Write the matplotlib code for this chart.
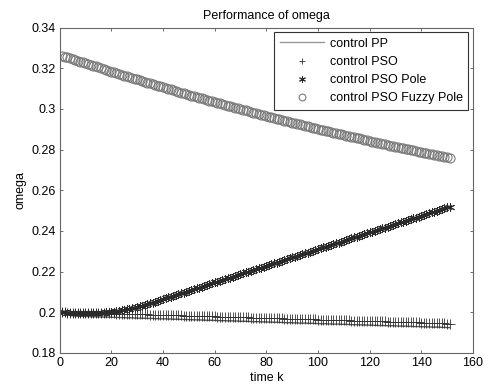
import matplotlib
matplotlib.use('Agg')
import matplotlib.pyplot as plt

plt.rcParams['font.family'] = ['Liberation Sans', 'DejaVu Sans']

# time steps k = 1..151
time_k = list(range(1, 152))

# control PP (solid line)
omega_pp = [
    0.2000, 0.1993, 0.1988, 0.1985, 0.1983, 0.1982, 0.1981, 0.1980, 0.1980, 0.1980,
    0.1979, 0.1979, 0.1978, 0.1978, 0.1978, 0.1977, 0.1977, 0.1977, 0.1976, 0.1976,
    0.1975, 0.1975, 0.1975, 0.1974, 0.1974, 0.1973, 0.1973, 0.1973, 0.1972, 0.1972,
    0.1971, 0.1971, 0.1971, 0.1970, 0.1970, 0.1970, 0.1969, 0.1969, 0.1968, 0.1968,
    0.1968, 0.1967, 0.1967, 0.1966, 0.1966, 0.1966, 0.1965, 0.1965, 0.1965, 0.1964,
    0.1964, 0.1963, 0.1963, 0.1963, 0.1962, 0.1962, 0.1961, 0.1961, 0.1961, 0.1960,
    0.1960, 0.1959, 0.1959, 0.1959, 0.1958, 0.1958, 0.1958, 0.1957, 0.1957, 0.1956,
    0.1956, 0.1956, 0.1955, 0.1955, 0.1954, 0.1954, 0.1954, 0.1953, 0.1953, 0.1953,
    0.1952, 0.1952, 0.1951, 0.1951, 0.1951, 0.1950, 0.1950, 0.1949, 0.1949, 0.1949,
    0.1948, 0.1948, 0.1947, 0.1947, 0.1947, 0.1946, 0.1946, 0.1946, 0.1945, 0.1945,
    0.1944, 0.1944, 0.1944, 0.1943, 0.1943, 0.1942, 0.1942, 0.1942, 0.1941, 0.1941,
    0.1941, 0.1940, 0.1940, 0.1939, 0.1939, 0.1939, 0.1938, 0.1938, 0.1937, 0.1937,
    0.1937, 0.1936, 0.1936, 0.1935, 0.1935, 0.1935, 0.1934, 0.1934, 0.1934, 0.1933,
    0.1933, 0.1932, 0.1932, 0.1932, 0.1931, 0.1931, 0.1930, 0.1930, 0.1930, 0.1929,
    0.1929, 0.1929, 0.1928, 0.1928, 0.1927, 0.1927, 0.1927, 0.1926, 0.1926, 0.1925,
    0.1925,
]

# control PSO (+ markers)
omega_pso = [
    0.2000, 0.2000, 0.1999, 0.1999, 0.1999, 0.1999, 0.1998, 0.1998, 0.1998, 0.1998,
    0.1997, 0.1997, 0.1997, 0.1997, 0.1996, 0.1996, 0.1996, 0.1996, 0.1995, 0.1995,
    0.1995, 0.1994, 0.1994, 0.1993, 0.1993, 0.1993, 0.1992, 0.1992, 0.1992, 0.1991,
    0.1991, 0.1990, 0.1990, 0.1990, 0.1989, 0.1989, 0.1989, 0.1988, 0.1988, 0.1987,
    0.1987, 0.1987, 0.1986, 0.1986, 0.1985, 0.1985, 0.1985, 0.1984, 0.1984, 0.1984,
    0.1983, 0.1983, 0.1982, 0.1982, 0.1982, 0.1981, 0.1981, 0.1980, 0.1980, 0.1980,
    0.1979, 0.1979, 0.1979, 0.1978, 0.1978, 0.1977, 0.1977, 0.1977, 0.1976, 0.1976,
    0.1976, 0.1975, 0.1975, 0.1974, 0.1974, 0.1974, 0.1973, 0.1973, 0.1972, 0.1972,
    0.1972, 0.1971, 0.1971, 0.1971, 0.1970, 0.1970, 0.1969, 0.1969, 0.1969, 0.1968,
    0.1968, 0.1967, 0.1967, 0.1967, 0.1966, 0.1966, 0.1966, 0.1965, 0.1965, 0.1964,
    0.1964, 0.1964, 0.1963, 0.1963, 0.1963, 0.1962, 0.1962, 0.1961, 0.1961, 0.1961,
    0.1960, 0.1960, 0.1959, 0.1959, 0.1959, 0.1958, 0.1958, 0.1958, 0.1957, 0.1957,
    0.1956, 0.1956, 0.1956, 0.1955, 0.1955, 0.1955, 0.1954, 0.1954, 0.1953, 0.1953,
    0.1953, 0.1952, 0.1952, 0.1951, 0.1951, 0.1951, 0.1950, 0.1950, 0.1950, 0.1949,
    0.1949, 0.1948, 0.1948, 0.1948, 0.1947, 0.1947, 0.1946, 0.1946, 0.1946, 0.1945,
    0.1945,
]

# control PSO Pole (asterisk markers)
omega_pso_pole = [
    0.2000, 0.2000, 0.1999, 0.1999, 0.1999, 0.1998, 0.1998, 0.1998, 0.1997, 0.1997,
    0.1997, 0.1997, 0.1997, 0.1997, 0.1998, 0.1998, 0.1999, 0.2000, 0.2001, 0.2003,
    0.2004, 0.2006, 0.2008, 0.2010, 0.2012, 0.2014, 0.2017, 0.2020, 0.2023, 0.2026,
    0.2029, 0.2033, 0.2036, 0.2040, 0.2044, 0.2048, 0.2052, 0.2056, 0.2060, 0.2065,
    0.2069, 0.2073, 0.2077, 0.2081, 0.2085, 0.2089, 0.2093, 0.2097, 0.2101, 0.2106,
    0.2110, 0.2114, 0.2118, 0.2122, 0.2126, 0.2130, 0.2134, 0.2138, 0.2142, 0.2147,
    0.2151, 0.2155, 0.2159, 0.2163, 0.2167, 0.2171, 0.2175, 0.2179, 0.2183, 0.2188,
    0.2192, 0.2196, 0.2200, 0.2204, 0.2208, 0.2212, 0.2216, 0.2220, 0.2224, 0.2229,
    0.2233, 0.2237, 0.2241, 0.2245, 0.2249, 0.2253, 0.2257, 0.2261, 0.2265, 0.2270,
    0.2274, 0.2278, 0.2282, 0.2286, 0.2290, 0.2294, 0.2298, 0.2302, 0.2306, 0.2311,
    0.2315, 0.2319, 0.2323, 0.2327, 0.2331, 0.2335, 0.2339, 0.2343, 0.2347, 0.2352,
    0.2356, 0.2360, 0.2364, 0.2368, 0.2372, 0.2376, 0.2380, 0.2384, 0.2388, 0.2393,
    0.2397, 0.2401, 0.2405, 0.2409, 0.2413, 0.2417, 0.2421, 0.2425, 0.2429, 0.2434,
    0.2438, 0.2442, 0.2446, 0.2450, 0.2454, 0.2458, 0.2462, 0.2466, 0.2470, 0.2475,
    0.2479, 0.2483, 0.2487, 0.2491, 0.2495, 0.2499, 0.2503, 0.2507, 0.2511, 0.2516,
    0.2520,
]

# control PSO Fuzzy Pole (circle markers)
omega_fuzzy_pole = [
    0.3262, 0.3258, 0.3254, 0.3250, 0.3246, 0.3242, 0.3237, 0.3233, 0.3229, 0.3225,
    0.3221, 0.3217, 0.3213, 0.3209, 0.3205, 0.3201, 0.3196, 0.3192, 0.3188, 0.3184,
    0.3180, 0.3176, 0.3172, 0.3168, 0.3164, 0.3161, 0.3157, 0.3153, 0.3149, 0.3145,
    0.3141, 0.3137, 0.3133, 0.3130, 0.3126, 0.3122, 0.3118, 0.3114, 0.3111, 0.3107,
    0.3103, 0.3099, 0.3096, 0.3092, 0.3088, 0.3085, 0.3081, 0.3077, 0.3074, 0.3070,
    0.3066, 0.3062, 0.3059, 0.3055, 0.3052, 0.3048, 0.3044, 0.3041, 0.3037, 0.3034,
    0.3030, 0.3027, 0.3023, 0.3020, 0.3016, 0.3013, 0.3010, 0.3006, 0.3003, 0.2999,
    0.2996, 0.2993, 0.2989, 0.2986, 0.2982, 0.2979, 0.2976, 0.2972, 0.2969, 0.2965,
    0.2962, 0.2959, 0.2956, 0.2952, 0.2949, 0.2946, 0.2943, 0.2940, 0.2936, 0.2933,
    0.2930, 0.2927, 0.2924, 0.2921, 0.2918, 0.2915, 0.2911, 0.2908, 0.2905, 0.2902,
    0.2899, 0.2896, 0.2893, 0.2890, 0.2887, 0.2884, 0.2881, 0.2878, 0.2875, 0.2872,
    0.2869, 0.2866, 0.2863, 0.2860, 0.2857, 0.2855, 0.2852, 0.2849, 0.2846, 0.2843,
    0.2840, 0.2837, 0.2834, 0.2832, 0.2829, 0.2826, 0.2823, 0.2820, 0.2818, 0.2815,
    0.2812, 0.2809, 0.2806, 0.2804, 0.2801, 0.2798, 0.2796, 0.2793, 0.2790, 0.2788,
    0.2785, 0.2782, 0.2780, 0.2777, 0.2775, 0.2772, 0.2770, 0.2767, 0.2765, 0.2762,
    0.2760,
]

x_ticks = [0, 20, 40, 60, 80, 100, 120, 140, 160]
y_ticks = [0.18, 0.2, 0.22, 0.24, 0.26, 0.28, 0.3, 0.32, 0.34]
y_tick_labels = ['0.18', '0.2', '0.22', '0.24', '0.26', '0.28', '0.3', '0.32', '0.34']

fig = plt.figure(figsize=(4.85, 3.92), dpi=100)
ax = fig.add_axes([0.123, 0.0995, 0.852, 0.830])

ax.plot(time_k, omega_pp, '-', color='#555555', linewidth=1.0,
        label='control PP')
ax.plot(time_k, omega_pso, linestyle='none', color='#333333',
        marker='+', markersize=6.5, markeredgewidth=0.6, label='control PSO')
ax.plot(time_k, omega_pso_pole, linestyle='none', color='#2a2a2a',
        marker=(6, 2, 0), markersize=6.5, markeredgewidth=0.7,
        label='control PSO Pole')
ax.plot(time_k, omega_fuzzy_pole, linestyle='none', marker='o',
        markersize=6.5, markerfacecolor='none', markeredgecolor='#7a7a7a',
        markeredgewidth=0.8, label='control PSO Fuzzy Pole')

ax.set_xlim(0, 160)
ax.set_ylim(0.18, 0.34)
ax.set_xticks(x_ticks)
ax.set_yticks(y_ticks)
ax.set_yticklabels(y_tick_labels)
ax.tick_params(direction='in', length=2.5, width=0.6, top=True, right=True,
               labelsize=9, color='#555555', pad=3)
for spine in ax.spines.values():
    spine.set_color('#666666')
    spine.set_linewidth(0.8)

ax.set_title('Performance of omega', fontsize=9, pad=6)
ax.set_xlabel('time k', fontsize=9, labelpad=2)
ax.set_ylabel('omega', fontsize=9, labelpad=3)

leg = ax.legend(loc='upper right', fontsize=9, fancybox=False, framealpha=1,
                edgecolor='#333333', handlelength=3.5, borderaxespad=0.35,
                labelspacing=0.5, handletextpad=0.5, borderpad=0.45,
                numpoints=1, markerscale=0.75)
leg.get_frame().set_linewidth(0.8)
leg.get_lines()[0].set_color('#999999')

fig.savefig('out.png', dpi=100)
